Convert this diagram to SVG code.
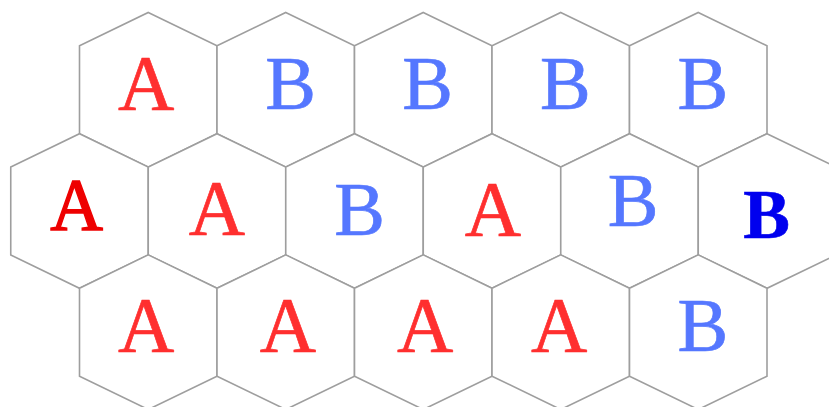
<svg xmlns="http://www.w3.org/2000/svg" xmlns:xlink="http://www.w3.org/1999/xlink" width="829" height="407" viewBox="0 0 829 407">
<style>
.cell{fill:#ffffff;stroke:#9e9e9e;stroke-width:1.6;stroke-linejoin:miter}
.t{font-family:"Liberation Serif","Times New Roman",serif;text-anchor:middle;stroke-width:0.7}
.a{fill:#ff2f2f;stroke:#ff2f2f;font-size:78px}
.b{fill:#5577ff;stroke:#5577ff;font-size:76px}
.a2{fill:#ee0000;stroke:#ee0000;stroke-width:1.4;font-size:73px}
.b2{fill:#0000ee;stroke:#0000ee;stroke-width:0.6;font-size:70px;font-weight:bold}
</style>
<defs>
<polygon id="hex" class="cell" points="0,-77.3 68.75,-44 68.75,44 0,77.3 -68.75,44 -68.75,-44"/>
</defs>
<rect width="829" height="407" fill="#ffffff"/>
<g id="r1c1" transform="translate(148.25,89.8)"><use xlink:href="#hex"/><text class="t a" x="-2" y="19.5">A</text></g>
<g id="r1c2" transform="translate(285.75,89.8)"><use xlink:href="#hex"/><text class="t b" x="4.8" y="19.5">B</text></g>
<g id="r1c3" transform="translate(423.25,89.8)"><use xlink:href="#hex"/><text class="t b" x="4.3" y="19.5">B</text></g>
<g id="r1c4" transform="translate(560.75,89.8)"><use xlink:href="#hex"/><text class="t b" x="4.5" y="19.5">B</text></g>
<g id="r1c5" transform="translate(698.25,89.8)"><use xlink:href="#hex"/><text class="t b" x="4.5" y="19.5">B</text></g>
<g id="r2c1" transform="translate(79.5,211)"><use xlink:href="#hex"/><text class="t a2" x="-3" y="19">A</text></g>
<g id="r2c2" transform="translate(217,211)"><use xlink:href="#hex"/><text class="t a" x="0" y="23.3">A</text></g>
<g id="r2c3" transform="translate(354.5,211)"><use xlink:href="#hex"/><text class="t b" x="5" y="24">B</text></g>
<g id="r2c4" transform="translate(492,211)"><use xlink:href="#hex"/><text class="t a" x="1" y="24">A</text></g>
<g id="r2c5" transform="translate(629.5,211)"><use xlink:href="#hex"/><text class="t b" x="3.5" y="15">B</text></g>
<g id="r2c6" transform="translate(767,211)"><use xlink:href="#hex"/><text class="t b2" x="-0.5" y="27.3">B</text></g>
<g id="r3c1" transform="translate(148.25,332.2)"><use xlink:href="#hex"/><text class="t a" x="-2" y="18.8">A</text></g>
<g id="r3c2" transform="translate(285.75,332.2)"><use xlink:href="#hex"/><text class="t a" x="2.2" y="18.8">A</text></g>
<g id="r3c3" transform="translate(423.25,332.2)"><use xlink:href="#hex"/><text class="t a" x="2" y="18.8">A</text></g>
<g id="r3c4" transform="translate(560.75,332.2)"><use xlink:href="#hex"/><text class="t a" x="-1.5" y="18.8">A</text></g>
<g id="r3c5" transform="translate(698.25,332.2)"><use xlink:href="#hex"/><text class="t b" x="4.5" y="18.8">B</text></g>
<g id="connectors"></g>
</svg>
